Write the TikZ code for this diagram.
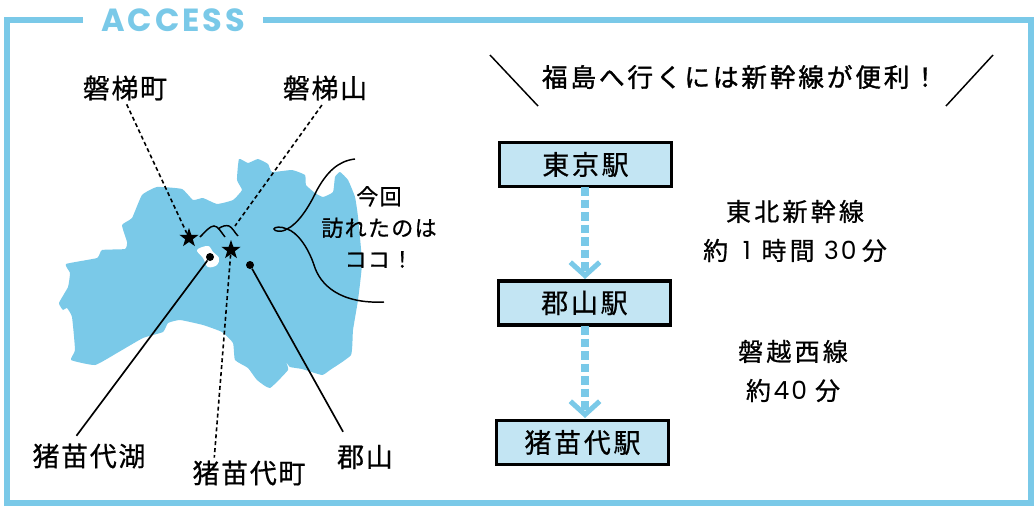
\documentclass[tikz,border=0pt]{standalone}
\usepackage{fontspec}
\usetikzlibrary{arrows.meta,shapes.geometric}
\newfontfamily\jpfont[LetterSpace=6,FakeBold=0.7]{Noto Sans CJK JP}
\newfontfamily\jpbox[LetterSpace=10,FakeBold=0.7]{Noto Sans CJK JP}
\newfontfamily\jpwide[LetterSpace=13,FakeBold=0.7]{Noto Sans CJK JP}
\newfontfamily\jpbold[LetterSpace=11,FakeBold=1.3]{Noto Sans CJK JP}
\newfontfamily\titlefont[LetterSpace=9]{Poppins}
\newfontfamily\digitfont[LetterSpace=8]{Poppins}
\newcommand{\routedigit}[1]{{\digitfont #1}}
\definecolor{accessblue}{HTML}{7AC9E8}
\definecolor{boxblue}{HTML}{C3E5F3}
\tikzset{
    placelabel/.style={inner sep=0pt,font=\jpfont\fontsize{20.25}{24}\selectfont},
    routelabel/.style={inner sep=0pt,align=center,font=\jpwide\fontsize{18.75}{29.25}\selectfont},
    stationbox/.style={draw=black,fill=boxblue,line width=2.4pt,minimum width=129pt,minimum height=33pt,inner sep=0pt,font=\jpbox\fontsize{20.25}{24}\selectfont},
    mapstar/.style={star,star points=5,star point ratio=2.5,fill=black,minimum size=15pt,inner sep=0pt},
    mapdot/.style={circle,fill=black,minimum size=6pt,inner sep=0pt},
    dottedlead/.style={black,line width=1.2pt,dash pattern=on 3pt off 2.2pt},
    solidlead/.style={black,line width=1.25pt},
    trainarrow/.style={accessblue,line width=6.2pt,dash pattern=on 6.6pt off 2.8pt,-{Straight Barb[length=10pt,width=22pt,line width=3.8pt]}},
}
\begin{document}
\begin{tikzpicture}[x=0.75pt,y=-0.75pt]
\useasboundingbox (0,0) rectangle (1035,511);
\node[minimum width=134.25pt,inner sep=0pt,text=accessblue,font=\titlefont\bfseries\fontsize{24}{28}\selectfont] (access) at (173,20) {ACCESS};
\draw[accessblue,line width=4.8pt] (access.west) -| (7,503) -| (1031,20) -- (access.east);
\fill[accessblue] plot[smooth cycle,tension=0.25] coordinates {
    (239,159) (248,163) (258,159) (268,164) (272,172) (292,170) (305,175) (306,185)
    (315,193) (323,197) (333,192) (335,177) (340,172) (348,180) (355,197) (358,217)
    (362,263) (358,300) (353,330) (351,355) (330,370) (322,375) (302,369) (290,367)
    (286,362) (288,370) (270,388) (257,380) (248,368) (235,360) (233,343) (222,332)
    (203,325) (180,320) (168,323) (163,332) (143,338) (117,353) (95,365) (71,360)
    (75,350) (72,317) (67,308) (63,310) (59,303) (68,287) (70,273) (66,264)
    (97,258) (102,250) (125,249) (127,242) (122,225) (132,218) (142,195) (157,187)
    (182,189) (193,200) (203,198) (217,204) (233,200) (242,190) (237,180)};
\fill[white] plot[smooth cycle,tension=0.6] coordinates {
    (197,250) (208,246) (213,252) (219,258) (217,265) (208,267) (203,258)};
\node[placelabel] (bandaimachi) at (125,88) {磐梯町};
\node[placelabel] (bandaisan) at (325,88) {磐梯山};
\node[placelabel] (inawashiroko) at (89,456) {猪苗代湖};
\node[placelabel] (inawashiromachi) at (249,473) {猪苗代町};
\node[placelabel] (koriyama) at (365,457) {郡山};
\node[mapstar] (starmachi) at (189,238) {};
\node[mapstar] (starsan) at (231,250) {};
\node[mapdot] (lakedot) at (210,257) {};
\node[mapdot] (koriyamadot) at (250,265) {};
\coordinate (santip) at (235,226);
\draw[dottedlead,shorten <=3pt] (bandaimachi.south) -- (starmachi);
\draw[dottedlead,shorten <=4pt] (bandaisan.south) -- (santip);
\draw[dottedlead,shorten >=2pt] (starsan) -- (inawashiromachi.160);
\draw[solidlead,shorten >=7pt] (lakedot) -- (inawashiroko.145);
\draw[solidlead,shorten >=11pt] (koriyamadot) -- (koriyama.140);
\draw[black,line width=1.1pt] (200,237) .. controls (206,231) and (210,226) .. (214,226) .. controls (218,226) and (221,232) .. (225,237);
\draw[black,line width=1.1pt] (218,229) .. controls (222,226) and (226,225) .. (229,226) .. controls (232,227) and (235,233) .. (238,236);
\coordinate (bracetip) at (287,229);
\draw[black,line width=1.1pt] (355,159) .. controls (338,161) and (327,172) .. (317,190) .. controls (309,207) and (298,224) .. (bracetip)
    .. controls (281,233) and (274,231) .. (274,229) .. controls (274,227) and (281,226) .. (bracetip)
    .. controls (297,232) and (308,247) .. (314,265) .. controls (320,285) and (340,304) .. (384,302);
\node[inner sep=0pt,align=center,font=\jpfont\fontsize{16.5}{23.6}\selectfont] (herelabel) at (379,227) {今回\\訪れたのは\\ココ！};
\coordinate (slashleftup) at (490,55);
\coordinate (slashleftdown) at (538,106);
\coordinate (slashrightup) at (993,55);
\coordinate (slashrightdown) at (946,106);
\draw[black,line width=1.1pt] (slashleftup) -- (slashleftdown);
\draw[black,line width=1.1pt] (slashrightup) -- (slashrightdown);
\node[inner sep=0pt,font=\jpbold\fontsize{19.25}{24}\selectfont] (headline) at (740,77) {福島へ行くには新幹線が便利！};
\node[stationbox] (tokyo) at (585.5,164.5) {東京駅};
\node[stationbox] (koriyamast) at (584.5,303) {郡山駅};
\node[stationbox] (inawashirost) at (582.5,442.5) {猪苗代駅};
\draw[trainarrow] (585,187) -- (585,279);
\draw[trainarrow] (585,326) -- (585,418);
\node[routelabel] (shinkansen) at (795,231) {東北新幹線\\約\hspace{11pt}\routedigit{1}\hspace{8pt}時間\hspace{7pt}\routedigit{30}\hspace{4pt}分};
\node[routelabel] (banetsu) at (793,371) {磐越西線\\約\hspace{2pt}\routedigit{40}\hspace{6pt}分};
\end{tikzpicture}
\end{document}
